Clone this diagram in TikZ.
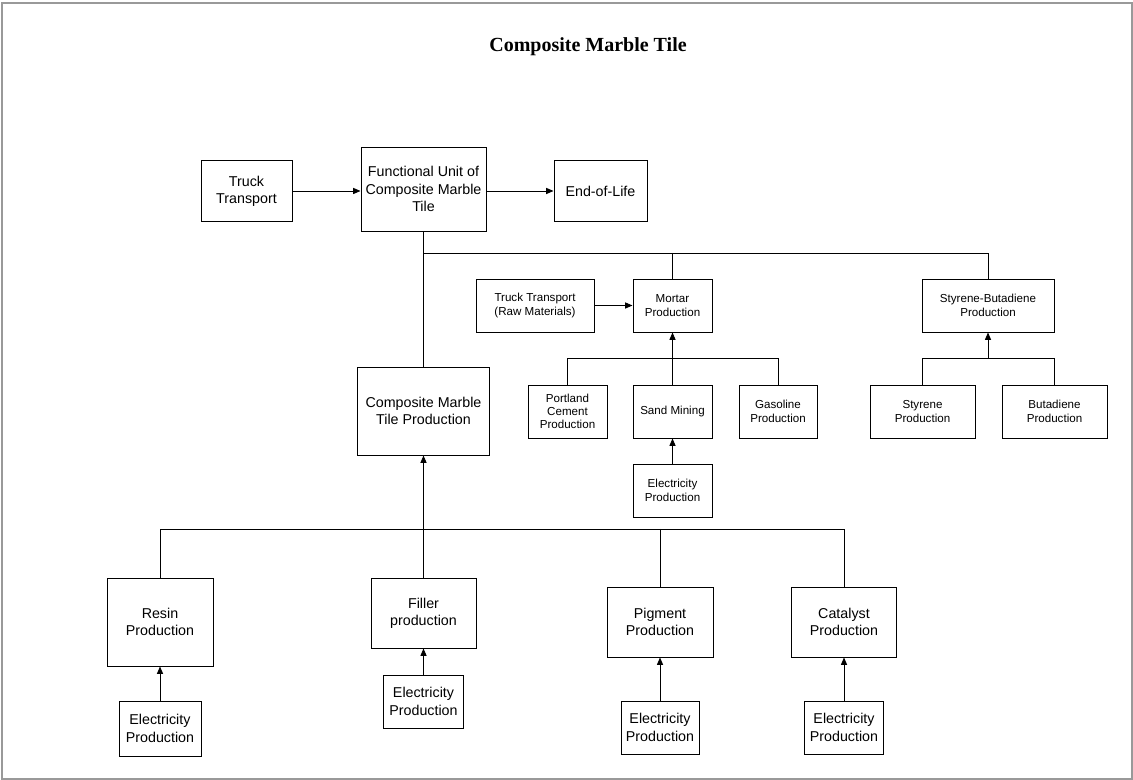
\documentclass[tikz,border=0pt]{standalone}
\usepackage{fontspec}
\setmainfont{Liberation Sans}
\newfontfamily\titlefont{Liberation Serif}
\usetikzlibrary{arrows.meta}
\begin{document}
\begin{tikzpicture}[x=0.75pt,y=-0.75pt,
  line width=0.7pt,
  bigtxt/.style={font=\fontsize{10.7}{13}\selectfont, align=center},
  smalltxt/.style={font=\fontsize{8.7}{10}\selectfont, align=center},
  box/.style={draw, rectangle, inner sep=1pt},
  bigbox/.style={box, bigtxt},
  smallbox/.style={box, smalltxt},
  flow/.style={-{Triangle[length=5.5pt,width=4.5pt]}},
  link/.style={-}
]
% page frame
\useasboundingbox (0,0) rectangle (1133,780);
\draw[draw=gray!80, line width=1.2pt] (2,3) rectangle (1132,779);

\node[font=\titlefont\bfseries\fontsize{15}{18}\selectfont] (title) at (588,47) {Composite Marble Tile};

% top row
\node[bigbox, minimum width=68.25pt, minimum height=45.75pt] (truck) at (246.5,191) {Truck\\Transport};
\node[bigbox, minimum width=93.75pt, minimum height=63pt] (fu) at (423.5,189) {Functional Unit of\\Composite Marble\\Tile};
\node[bigbox, minimum width=69.75pt, minimum height=45.75pt] (eol) at (600.5,191) {End-of-Life};

% mortar branch
\node[smallbox, minimum width=88.5pt, minimum height=39.75pt] (trm) at (535,305.5) {Truck Transport\\(Raw Materials)};
\node[smallbox, minimum width=59.25pt, minimum height=39.75pt] (mortar) at (672.5,305.5) {Mortar\\Production};
\node[smallbox, minimum width=59.25pt, minimum height=39.75pt] (portland) at (567.5,411.5) {Portland\\Cement\\Production};
\node[smallbox, minimum width=59.25pt, minimum height=39.75pt] (sand) at (672.5,411.5) {Sand Mining};
\node[smallbox, minimum width=58.5pt, minimum height=39.75pt] (gasoline) at (778,411.5) {Gasoline\\Production};
\node[smallbox, minimum width=59.25pt, minimum height=39.75pt] (elsand) at (672.5,490.5) {Electricity\\Production};

% styrene-butadiene branch
\node[smallbox, minimum width=99pt, minimum height=39.75pt] (sb) at (988,305.5) {Styrene-Butadiene\\Production};
\node[smallbox, minimum width=78.75pt, minimum height=39.75pt] (styrene) at (922.5,411.5) {Styrene\\Production};
\node[smallbox, minimum width=78.75pt, minimum height=39.75pt] (butadiene) at (1054.5,411.5) {Butadiene\\Production};

% tile production branch
\node[bigbox, minimum width=99pt, minimum height=66pt] (cmtp) at (423.5,411) {Composite Marble\\Tile Production};
\node[bigbox, minimum width=79.5pt, minimum height=66pt] (resin) at (160,622) {Resin\\Production};
\node[bigbox, minimum width=61.5pt, minimum height=41.25pt] (elresin) at (160,728.5) {Electricity\\Production};
\node[bigbox, minimum width=78.75pt, minimum height=52.5pt] (filler) at (423.5,613) {Filler\\production};
\node[bigbox, minimum width=60pt, minimum height=39.75pt] (elfiller) at (423.5,701.5) {Electricity\\Production};
\node[bigbox, minimum width=79.5pt, minimum height=52.5pt] (pigment) at (660,622) {Pigment\\Production};
\node[bigbox, minimum width=58.5pt, minimum height=39.75pt] (elpigment) at (660,727.5) {Electricity\\Production};
\node[bigbox, minimum width=78.75pt, minimum height=52.5pt] (catalyst) at (844,622) {Catalyst\\Production};
\node[bigbox, minimum width=59.25pt, minimum height=39.75pt] (elcatalyst) at (844,727.5) {Electricity\\Production};

% junction points
\coordinate (jtop) at (423.5,253);
\coordinate (jmort) at (672.5,358);
\coordinate (jsb) at (988,358);
\coordinate (jcm) at (423.5,529);

% top row flows
\draw[flow] (truck.east) -- (truck.east -| fu.west);
\draw[flow] (eol.west -| fu.east) -- (eol.west);

% functional unit to its inputs
\draw[link] (fu.south) -- (cmtp.north);
\draw[link] (jtop) -- (jtop -| sb.north) -- (sb.north);
\draw[link] (jtop -| mortar.north) -- (mortar.north);

% mortar inputs
\draw[flow] (trm.east) -- (mortar.west);
\draw[link] (portland.north) -- (portland.north |- jmort) -- (gasoline.north |- jmort) -- (gasoline.north);
\draw[flow] (sand.north) -- (mortar.south);
\draw[flow] (elsand.north) -- (sand.south);

% styrene-butadiene inputs
\draw[link] (styrene.north) -- (styrene.north |- jsb) -- (butadiene.north |- jsb) -- (butadiene.north);
\draw[flow] (jsb) -- (sb.south);

% tile production inputs
\draw[link] (resin.north) -- (resin.north |- jcm) -- (catalyst.north |- jcm) -- (catalyst.north);
\draw[link] (pigment.north |- jcm) -- (pigment.north);
\draw[flow] (filler.north) -- (cmtp.south);

% electricity supplies
\draw[flow] (elresin.north) -- (resin.south);
\draw[flow] (elfiller.north) -- (filler.south);
\draw[flow] (elpigment.north) -- (pigment.south);
\draw[flow] (elcatalyst.north) -- (catalyst.south);
\end{tikzpicture}
\end{document}
